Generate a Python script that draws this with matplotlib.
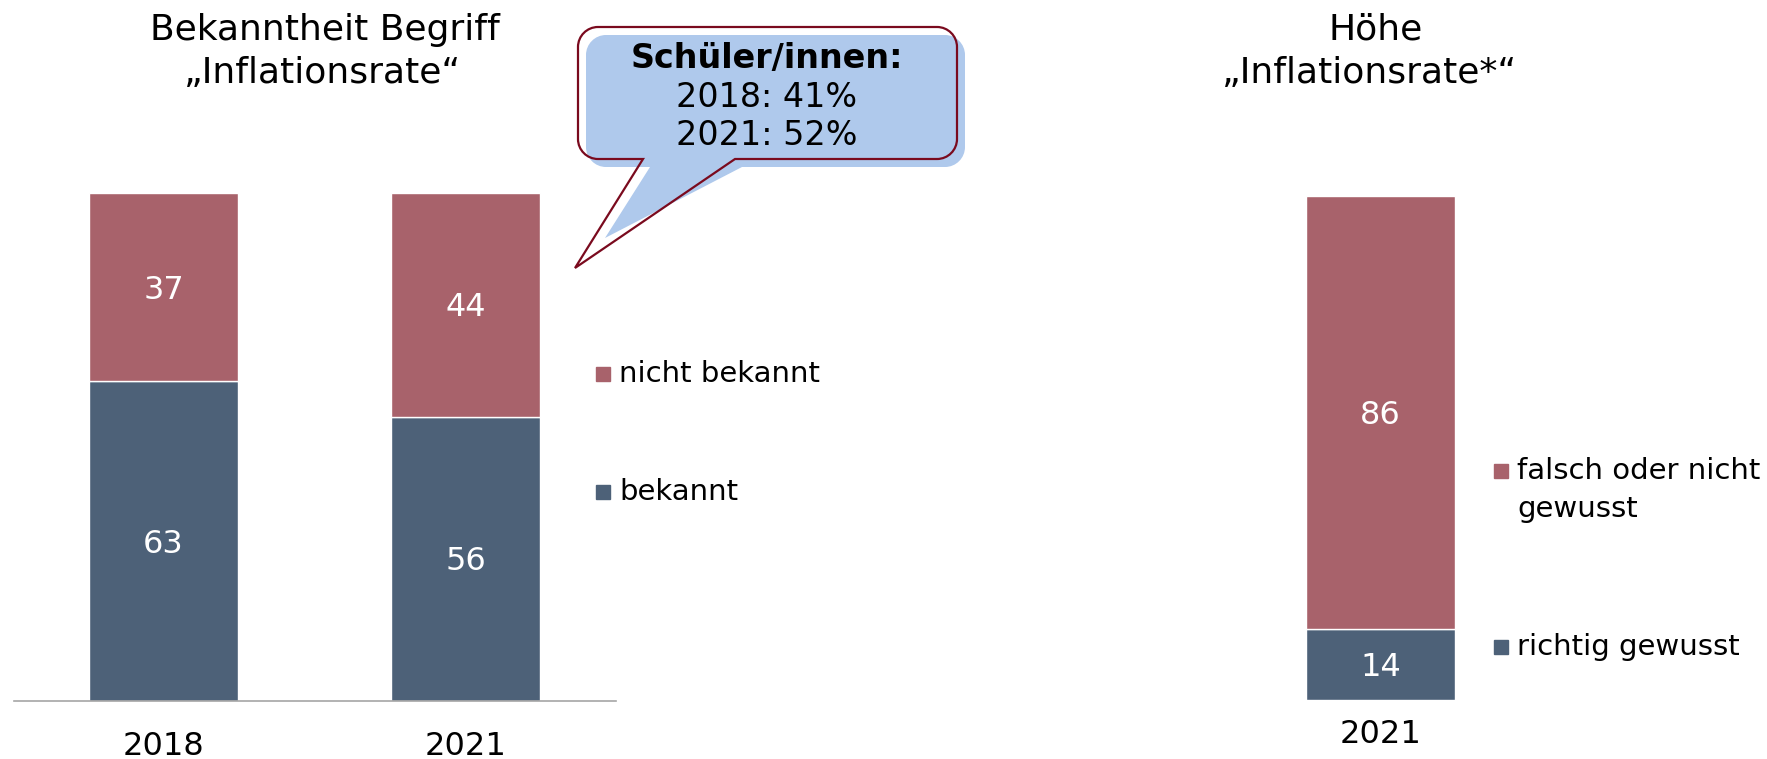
import matplotlib
matplotlib.use("Agg")
import matplotlib.pyplot as plt
from matplotlib.path import Path
from matplotlib.patches import PathPatch, Rectangle
import numpy as np

plt.rcParams['font.family'] = ['DejaVu Sans']

# ---- data ----
years_left = ["2018", "2021"]
bekannt = [63, 56]
nicht_bekannt = [37, 44]
legend_left = ["nicht bekannt", "bekannt"]
title_left = ["Bekanntheit Begriff", "\u201eInflationsrate\u201c"]

years_right = ["2021"]
richtig = [14]
falsch = [86]
legend_right = ["falsch oder nicht", "gewusst", "richtig gewusst"]
title_right = ["H\u00f6he", "\u201eInflationsrate*\u201c"]

callout_lines = ["Sch\u00fcler/innen:", "2018: 41%", "2021: 52%"]

BLUE = "#4D6178"
RED = "#A8626B"
AXGRAY = "#A6A6A6"
FS = 23
FS_T = 26
FS_L = 21
FS_C = 24

W, H = 1767, 759
fig = plt.figure(figsize=(W / 100, H / 100), dpi=100)

def px_axes(x0, y0, x1, y1):
    # pixel coords (top-left origin) -> figure fraction
    return fig.add_axes([x0 / W, (H - y1) / H, (x1 - x0) / W, (y1 - y0) / H])

def seg_labels(ax, bars, vals, bottoms):
    for b, v, btm in zip(bars, vals, bottoms):
        ax.annotate(str(v), (b.get_x() + b.get_width() / 2, btm + v / 2),
                    xytext=(0, -8.3), textcoords="offset points",
                    ha="center", va="baseline", color="white", fontsize=FS)

# ---- left chart ----
axL = px_axes(13.5, 193, 616, 701)
xL = np.arange(len(years_left))
bw = 0.493
b1 = axL.bar(xL, bekannt, bw, color=BLUE, edgecolor="white", linewidth=1)
b2 = axL.bar(xL, nicht_bekannt, bw, bottom=bekannt, color=RED, edgecolor="white", linewidth=1)
seg_labels(axL, b1, bekannt, [0] * len(bekannt))
seg_labels(axL, b2, nicht_bekannt, bekannt)
axL.set_xlim(-0.497, 1.498)
axL.set_ylim(0, 100)
axL.set_xticks(xL, years_left, fontsize=FS)
axL.tick_params(axis="x", length=0, pad=38.9)
for lbl in axL.get_xticklabels():
    lbl.set_verticalalignment("baseline")
axL.set_yticks([])
for s in ("top", "right", "left"):
    axL.spines[s].set_visible(False)
axL.spines["bottom"].set_color(AXGRAY)
axL.spines["bottom"].set_linewidth(1.2)

# ---- right chart ----
axR = px_axes(1229.5, 196, 1531.5, 700)
xR = np.arange(len(years_right))
c1 = axR.bar(xR, richtig, bw, color=BLUE, edgecolor="white", linewidth=1)
c2 = axR.bar(xR, falsch, bw, bottom=richtig, color=RED, edgecolor="white", linewidth=1)
seg_labels(axR, c1, richtig, [0] * len(richtig))
seg_labels(axR, c2, falsch, richtig)
axR.set_xlim(-0.5, 0.5)
axR.set_ylim(0, 100)
axR.set_xticks(xR, years_right, fontsize=FS)
axR.tick_params(axis="x", length=0, pad=31)
for lbl in axR.get_xticklabels():
    lbl.set_verticalalignment("baseline")
axR.set_yticks([])
for s in axR.spines.values():
    s.set_visible(False)

# ---- overlay in pixel coords ----
ov = fig.add_axes([0, 0, 1, 1], facecolor="none")
ov.set_xlim(0, W)
ov.set_ylim(H, 0)
ov.axis("off")

# titles
ov.text(325, 40, title_left[0], ha="center", va="baseline", fontsize=FS_T)
ov.text(323, 83, title_left[1], ha="center", va="baseline", fontsize=FS_T)
ov.text(1376, 40, title_right[0], ha="center", va="baseline", fontsize=FS_T)
ov.text(1370, 83, title_right[1], ha="center", va="baseline", fontsize=FS_T)

# legends
sq = 14
for (lab, col, yc) in [(legend_left[0], RED, 374), (legend_left[1], BLUE, 492)]:
    ov.add_patch(Rectangle((596, yc - sq / 2), sq, sq, color=col))
    ov.text(619, yc, lab, ha="left", va="center", fontsize=FS_L)

ov.add_patch(Rectangle((1494, 471 - sq / 2), sq, sq, color=RED))
ov.text(1517, 471, legend_right[0], ha="left", va="center", fontsize=FS_L)
ov.text(1517, 509, legend_right[1], ha="left", va="center", fontsize=FS_L)
ov.add_patch(Rectangle((1494, 647 - sq / 2), sq, sq, color=BLUE))
ov.text(1517, 647, legend_right[2], ha="left", va="center", fontsize=FS_L)

# callout
def bubble_path(x0, y0, x1, y1, r, bl, tip, br):
    k = 0.5523 * r
    v = [
        (x0 + r, y0), (x1 - r, y0),
        (x1 - r + k, y0), (x1, y0 + r - k), (x1, y0 + r),
        (x1, y1 - r),
        (x1, y1 - r + k), (x1 - r + k, y1), (x1 - r, y1),
        (br, y1), tip, (bl, y1),
        (x0 + r, y1),
        (x0 + r - k, y1), (x0, y1 - r + k), (x0, y1 - r),
        (x0, y0 + r),
        (x0, y0 + r - k), (x0 + r - k, y0), (x0 + r, y0),
        (x0 + r, y0),
    ]
    c = [Path.MOVETO, Path.LINETO,
         Path.CURVE4, Path.CURVE4, Path.CURVE4,
         Path.LINETO,
         Path.CURVE4, Path.CURVE4, Path.CURVE4,
         Path.LINETO, Path.LINETO, Path.LINETO,
         Path.LINETO,
         Path.CURVE4, Path.CURVE4, Path.CURVE4,
         Path.LINETO,
         Path.CURVE4, Path.CURVE4, Path.CURVE4,
         Path.CLOSEPOLY]
    return Path(v, c)

shadow = bubble_path(586, 35, 965, 167, 20, 650, (605, 238), 742)
ov.add_patch(PathPatch(shadow, facecolor="#AFC9EC", edgecolor="none"))
outline = bubble_path(578, 27, 957, 159, 20, 643, (575, 268), 735)
ov.add_patch(PathPatch(outline, facecolor="none", edgecolor="#7A0A1E", linewidth=1.6))

ov.text(767, 68, callout_lines[0], ha="center", va="baseline", fontsize=FS_C, fontweight="bold")
ov.text(767, 107, callout_lines[1], ha="center", va="baseline", fontsize=FS_C)
ov.text(767, 145, callout_lines[2], ha="center", va="baseline", fontsize=FS_C)

fig.savefig("out.png", dpi=100)
